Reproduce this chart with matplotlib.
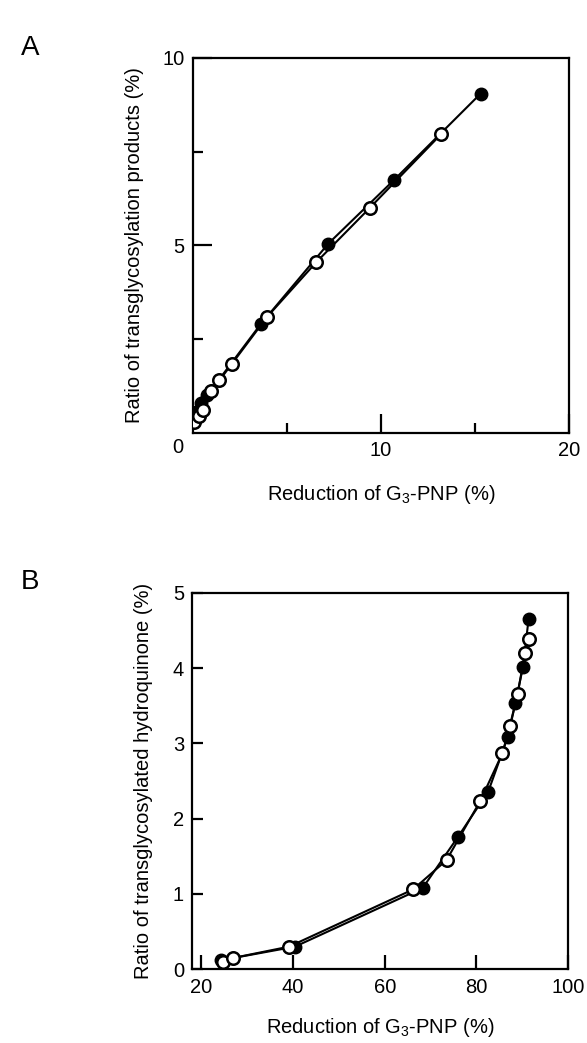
import matplotlib
matplotlib.use('Agg')
import matplotlib.pyplot as plt

plt.rcParams['font.family'] = ['Liberation Sans', 'DejaVu Sans']
plt.rcParams['mathtext.default'] = 'regular'

# panel A: reduction of G3-PNP (%) vs ratio of transglycosylation products (%)
a_filled_x = [0.15, 0.45, 0.75, 3.6, 7.2, 10.7, 15.3]
a_filled_y = [0.55, 0.8, 1.0, 2.9, 5.05, 6.75, 9.05]
a_open_x = [0.07, 0.3, 0.55, 0.95, 1.4, 2.05, 3.95, 6.55, 9.4, 13.2]
a_open_y = [0.3, 0.45, 0.62, 1.12, 1.4, 1.83, 3.1, 4.55, 6.0, 7.97]

# panel B: reduction of G3-PNP (%) vs ratio of transglycosylated hydroquinone (%)
b_filled_x = [24.3, 40.4, 68.3, 75.9, 82.6, 86.9, 88.5, 90.2, 91.4]
b_filled_y = [0.12, 0.30, 1.08, 1.75, 2.36, 3.09, 3.53, 4.02, 4.65]
b_open_x = [24.6, 26.9, 39.1, 66.2, 73.5, 80.9, 85.7, 87.3, 89.0, 90.6, 91.4]
b_open_y = [0.09, 0.15, 0.30, 1.06, 1.45, 2.24, 2.87, 3.23, 3.65, 4.2, 4.38]

xlabel = r'Reduction of G$_{3}$-PNP (%)'
fs = 14.5

fig = plt.figure(figsize=(5.87, 10.43), dpi=100)
axA = fig.add_axes([0.3288, 0.5849, 0.6405, 0.3595])
axB = fig.add_axes([0.3276, 0.0707, 0.6400, 0.3610])

def draw(ax, fx, fy, ox, oy):
    ax.plot(fx, fy, '-', color='black', lw=1.5, marker='o', ms=9,
            mfc='black', mec='black', zorder=3)
    ax.plot(ox, oy, '-', color='black', lw=1.5, marker='o', ms=9,
            mfc='white', mec='black', mew=1.8, zorder=4)
    for s in ax.spines.values():
        s.set_linewidth(1.6)
    ax.tick_params(direction='in', width=1.6, labelsize=fs, pad=6)

# A
draw(axA, a_filled_x, a_filled_y, a_open_x, a_open_y)
axA.set_xlim(0, 20)
axA.set_ylim(0, 10)
axA.set_xticks([10, 20])
axA.set_xticklabels(['10', '20'])
axA.set_xticks([5, 15], minor=True)
axA.set_yticks([5, 10])
axA.set_yticklabels(['5', '10'])
axA.set_yticks([2.5, 7.5], minor=True)
axA.tick_params(which='major', length=14)
axA.tick_params(which='minor', direction='in', width=1.6, length=7)
axA.text(-0.04, -0.04, '0', transform=axA.transAxes, fontsize=fs,
         ha='center', va='center')
axA.set_xlabel(xlabel, fontsize=fs, labelpad=16)
axA.set_ylabel('Ratio of transglycosylation products (%)', fontsize=fs,
               labelpad=13)

# B
draw(axB, b_filled_x, b_filled_y, b_open_x, b_open_y)
axB.set_xlim(18, 100)
axB.set_ylim(0, 5)
axB.set_xticks([20, 40, 60, 80, 100])
axB.set_yticks([0, 1, 2, 3, 4, 5])
axB.tick_params(length=8)
axB.tick_params(axis='x', length=10)
axB.set_xlabel(xlabel, fontsize=fs, labelpad=14)
axB.set_ylabel('Ratio of transglycosylated hydroquinone (%)', fontsize=fs,
               labelpad=14)

fig.text(0.035, 0.954, 'A', fontsize=20, ha='left', va='center')
fig.text(0.035, 0.442, 'B', fontsize=20, ha='left', va='center')

fig.savefig('out.png', dpi=100)
